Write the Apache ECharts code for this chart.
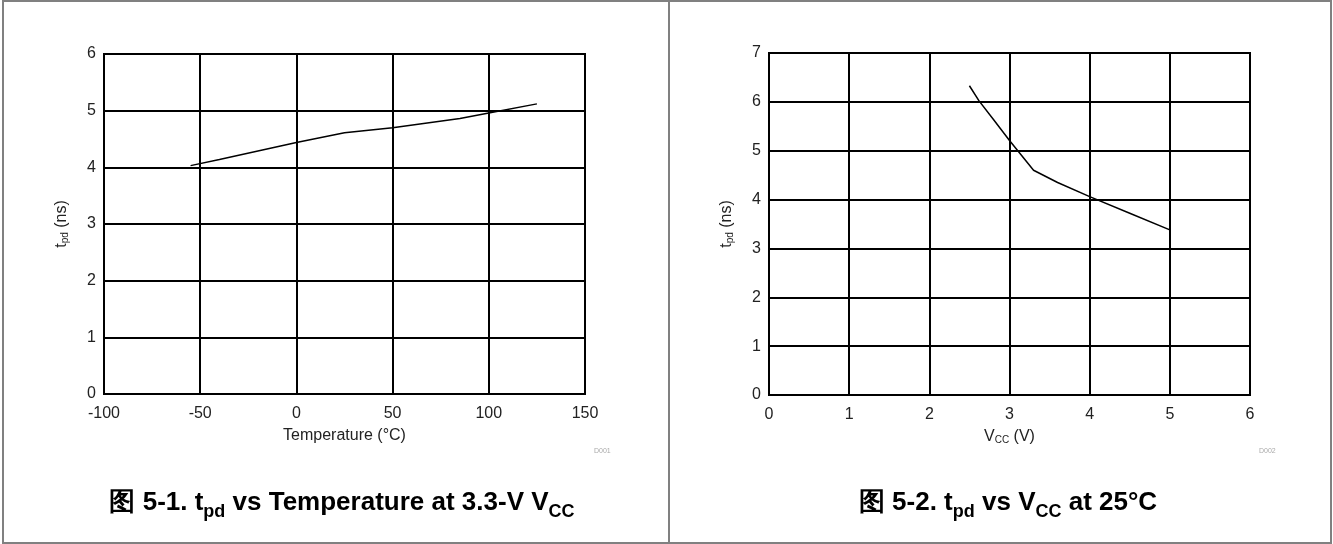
<!DOCTYPE html>
<html>
<head>
<meta charset="utf-8">
<script src="https://cdn.jsdelivr.net/npm/echarts@6/dist/echarts.min.js"></script>
<style>
  html, body { margin: 0; padding: 0; background: #fff; }
  #chart { width: 1333px; height: 544px; }
</style>
</head>
<body>
<div id="chart"></div>
<script>
// figure 5-1 : tpd vs temperature
var tempC = [-55, -40, 0, 25, 50, 85, 100, 125];
var tpdTemp = [4.03, 4.14, 4.44, 4.61, 4.70, 4.86, 4.96, 5.12];
// figure 5-2 : tpd vs Vcc
var vcc = [2.5, 2.62, 2.8, 3.0, 3.3, 3.6, 4.0, 4.5, 5.0];
var tpdVcc = [6.33, 6.02, 5.64, 5.21, 4.60, 4.35, 4.06, 3.72, 3.38];

var tempRange = [-100, 150, 50];
var vccRange = [0, 6, 1];

function pairs(xs, ys) {
  return xs.map(function (x, i) { return [x, ys[i]]; });
}

var font = 'Arial, "Liberation Sans", sans-serif';
var labelStyle = { color: '#222', fontSize: 16, fontFamily: font };
var nameRich = {
  a: { fontSize: 16, fontFamily: font, color: '#222' },
  s: { fontSize: 10, fontFamily: font, color: '#222', padding: [6, 0, 0, 0] }
};
var capRich = {
  b: { fontSize: 26, fontWeight: 'bold', fontFamily: font, color: '#000', lineHeight: 36 },
  s: { fontSize: 18, fontWeight: 'bold', fontFamily: font, color: '#000', lineHeight: 36, verticalAlign: 'bottom' }
};
var blackLine = { color: '#000', width: 2 };

function xAx(idx, r, name) {
  return {
    type: 'value', gridIndex: idx, min: r[0], max: r[1], interval: r[2],
    axisLine: { lineStyle: blackLine }, axisTick: { show: false },
    axisLabel: Object.assign({ margin: 12 }, labelStyle),
    splitLine: { show: true, lineStyle: blackLine },
    name: name, nameLocation: 'middle', nameGap: 34,
    nameTextStyle: { rich: nameRich }
  };
}
function yAx(idx, max) {
  return {
    type: 'value', gridIndex: idx, min: 0, max: max, interval: 1,
    axisLine: { show: true, lineStyle: blackLine }, axisTick: { show: false },
    axisLabel: Object.assign({ margin: 8 }, labelStyle),
    splitLine: { show: true, lineStyle: blackLine },
    name: '{a|t}{s|pd}{a| (ns)}', nameLocation: 'middle', nameGap: 34, nameRotate: 90,
    nameTextStyle: { rich: nameRich }
  };
}

var chart = echarts.init(document.getElementById('chart'));
chart.setOption({
  animation: false,
  title: [
    { text: '{b|图 5-1. t}{s|pd}{b| vs Temperature at 3.3-V V}{s|CC}', left: 337, textAlign: 'center', top: 480,
      textStyle: { rich: capRich } },
    { text: '{b|图 5-2. t}{s|pd}{b| vs V}{s|CC}{b| at 25°C}', left: 1003, textAlign: 'center', top: 480,
      textStyle: { rich: capRich } }
  ],
  grid: [
    { left: 104, top: 54, width: 481, height: 340, show: true, borderColor: '#000', borderWidth: 2 },
    { left: 769, top: 53, width: 481, height: 342, show: true, borderColor: '#000', borderWidth: 2 }
  ],
  xAxis: [
    xAx(0, tempRange, '{a|Temperature (°C)}'),
    xAx(1, vccRange, '{a|V}{s|CC}{a| (V)}')
  ],
  yAxis: [yAx(0, 6), yAx(1, 7)],
  series: [
    { type: 'line', xAxisIndex: 0, yAxisIndex: 0, data: pairs(tempC, tpdTemp),
      showSymbol: false, lineStyle: { color: '#000', width: 1.5 } },
    { type: 'line', xAxisIndex: 1, yAxisIndex: 1, data: pairs(vcc, tpdVcc),
      showSymbol: false, lineStyle: { color: '#000', width: 1.5 } }
  ],
  graphic: [
    { type: 'rect', shape: { x: 3, y: 1, width: 1328, height: 542 },
      style: { fill: null, stroke: '#808080', lineWidth: 2 }, silent: true },
    { type: 'line', shape: { x1: 669, y1: 0, x2: 669, y2: 544 },
      style: { stroke: '#808080', lineWidth: 2 }, silent: true },
    { type: 'text', x: 594, y: 448, style: { text: 'D001', fontSize: 7, fill: '#aaa', fontFamily: font } },
    { type: 'text', x: 1259, y: 448, style: { text: 'D002', fontSize: 7, fill: '#aaa', fontFamily: font } }
  ]
});
window.addEventListener('resize', function () { chart.resize(); });
</script>
</body>
</html>
